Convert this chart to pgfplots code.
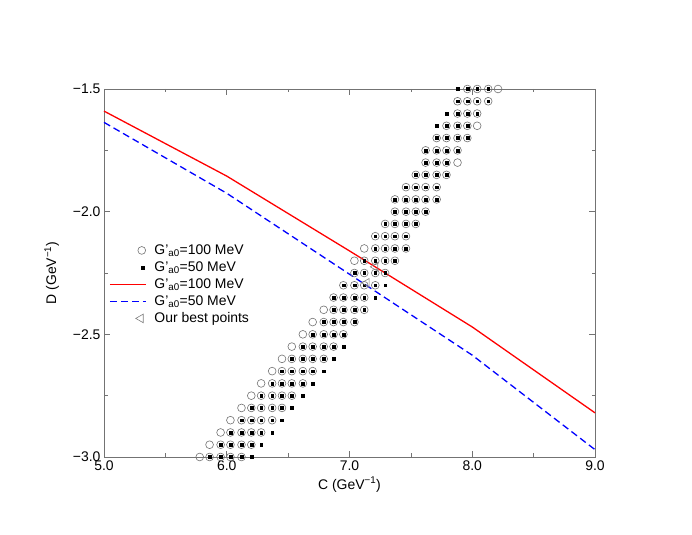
\documentclass[border=0pt]{standalone}
\usepackage{pgfplots}
\pgfplotsset{compat=1.18}
\usepackage{fontspec}
\setmainfont{Liberation Sans}
\pgfplotsset{
  markleg/.style={legend image code/.code={\draw[mark repeat=2,mark phase=2,##1] plot coordinates {(0bp,0bp) (#1,0bp) (36bp,0bp)};}},
  lineleg/.style={legend image code/.code={\draw[##1] (0bp,0bp) -- (36bp,0bp);}},
}
\pgfplotstableread{
C D
7.96 -1.50
8.04 -1.50
8.13 -1.50
8.21 -1.50
7.88 -1.55
7.96 -1.55
8.04 -1.55
8.13 -1.55
7.88 -1.60
7.96 -1.60
8.04 -1.60
7.79 -1.65
7.88 -1.65
7.96 -1.65
8.04 -1.65
7.71 -1.70
7.79 -1.70
7.88 -1.70
7.96 -1.70
7.62 -1.75
7.71 -1.75
7.79 -1.75
7.88 -1.75
7.62 -1.80
7.71 -1.80
7.79 -1.80
7.88 -1.80
7.54 -1.85
7.62 -1.85
7.71 -1.85
7.79 -1.85
7.46 -1.90
7.54 -1.90
7.62 -1.90
7.71 -1.90
7.37 -1.95
7.46 -1.95
7.54 -1.95
7.62 -1.95
7.71 -1.95
7.37 -2.00
7.46 -2.00
7.54 -2.00
7.62 -2.00
7.29 -2.05
7.37 -2.05
7.46 -2.05
7.54 -2.05
7.21 -2.10
7.29 -2.10
7.37 -2.10
7.46 -2.10
7.12 -2.15
7.21 -2.15
7.29 -2.15
7.37 -2.15
7.46 -2.15
7.04 -2.20
7.12 -2.20
7.21 -2.20
7.29 -2.20
7.37 -2.20
7.04 -2.25
7.12 -2.25
7.21 -2.25
7.29 -2.25
6.95 -2.30
7.04 -2.30
7.12 -2.30
7.21 -2.30
6.87 -2.35
6.95 -2.35
7.04 -2.35
7.12 -2.35
6.79 -2.40
6.87 -2.40
6.95 -2.40
7.04 -2.40
7.12 -2.40
6.70 -2.45
6.79 -2.45
6.87 -2.45
6.95 -2.45
7.04 -2.45
6.62 -2.50
6.70 -2.50
6.79 -2.50
6.87 -2.50
6.95 -2.50
6.53 -2.55
6.62 -2.55
6.70 -2.55
6.79 -2.55
6.87 -2.55
6.45 -2.60
6.53 -2.60
6.62 -2.60
6.70 -2.60
6.79 -2.60
6.37 -2.65
6.45 -2.65
6.53 -2.65
6.62 -2.65
6.70 -2.65
6.28 -2.70
6.37 -2.70
6.45 -2.70
6.53 -2.70
6.62 -2.70
6.20 -2.75
6.28 -2.75
6.37 -2.75
6.45 -2.75
6.53 -2.75
6.12 -2.80
6.20 -2.80
6.28 -2.80
6.37 -2.80
6.45 -2.80
6.03 -2.85
6.12 -2.85
6.20 -2.85
6.28 -2.85
6.37 -2.85
5.95 -2.90
6.03 -2.90
6.12 -2.90
6.20 -2.90
6.28 -2.90
5.86 -2.95
5.95 -2.95
6.03 -2.95
6.12 -2.95
6.20 -2.95
5.78 -3.00
5.86 -3.00
5.95 -3.00
6.03 -3.00
6.12 -3.00
}\circles
\pgfplotstableread{
C D
7.88 -1.50
7.96 -1.50
8.04 -1.50
8.13 -1.50
7.88 -1.55
7.96 -1.55
8.04 -1.55
8.13 -1.55
7.79 -1.60
7.88 -1.60
7.96 -1.60
8.04 -1.60
7.71 -1.65
7.79 -1.65
7.88 -1.65
7.96 -1.65
7.71 -1.70
7.79 -1.70
7.88 -1.70
7.96 -1.70
7.62 -1.75
7.71 -1.75
7.79 -1.75
7.88 -1.75
7.62 -1.80
7.71 -1.80
7.79 -1.80
7.54 -1.85
7.62 -1.85
7.71 -1.85
7.79 -1.85
7.46 -1.90
7.54 -1.90
7.62 -1.90
7.71 -1.90
7.37 -1.95
7.46 -1.95
7.54 -1.95
7.62 -1.95
7.71 -1.95
7.37 -2.00
7.46 -2.00
7.54 -2.00
7.62 -2.00
7.29 -2.05
7.37 -2.05
7.46 -2.05
7.54 -2.05
7.21 -2.10
7.29 -2.10
7.37 -2.10
7.46 -2.10
7.21 -2.15
7.29 -2.15
7.37 -2.15
7.46 -2.15
7.12 -2.20
7.21 -2.20
7.29 -2.20
7.37 -2.20
7.04 -2.25
7.12 -2.25
7.21 -2.25
7.29 -2.25
6.95 -2.30
7.04 -2.30
7.12 -2.30
7.21 -2.30
7.29 -2.30
6.87 -2.35
6.95 -2.35
7.04 -2.35
7.12 -2.35
7.21 -2.35
6.87 -2.40
6.95 -2.40
7.04 -2.40
7.12 -2.40
6.79 -2.45
6.87 -2.45
6.95 -2.45
7.04 -2.45
6.70 -2.50
6.79 -2.50
6.87 -2.50
6.95 -2.50
6.62 -2.55
6.70 -2.55
6.79 -2.55
6.87 -2.55
6.95 -2.55
6.53 -2.60
6.62 -2.60
6.70 -2.60
6.79 -2.60
6.87 -2.60
6.45 -2.65
6.53 -2.65
6.62 -2.65
6.70 -2.65
6.79 -2.65
6.37 -2.70
6.45 -2.70
6.53 -2.70
6.62 -2.70
6.70 -2.70
6.28 -2.75
6.37 -2.75
6.45 -2.75
6.53 -2.75
6.62 -2.75
6.20 -2.80
6.28 -2.80
6.37 -2.80
6.45 -2.80
6.53 -2.80
6.12 -2.85
6.20 -2.85
6.28 -2.85
6.37 -2.85
6.45 -2.85
6.03 -2.90
6.12 -2.90
6.20 -2.90
6.28 -2.90
6.37 -2.90
5.95 -2.95
6.03 -2.95
6.12 -2.95
6.20 -2.95
6.28 -2.95
5.86 -3.00
5.95 -3.00
6.03 -3.00
6.12 -3.00
6.20 -3.00
}\squares
\begin{document}
\begin{tikzpicture}
\useasboundingbox (0,0) rectangle (692bp,535bp);
\begin{axis}[
  at={(104bp,78bp)}, anchor=south west,
  scale only axis, width=491bp, height=368bp,
  xmin=5, xmax=9, ymin=-3, ymax=-1.5,
  clip=false,
  font=\fontsize{14}{16}\selectfont,
  xtick={5,6,7,8,9},
  xticklabels={5.0,6.0,7.0,8.0,9.0},
  minor xtick={5.5,6.5,7.5,8.5},
  ytick={-3,-2.5,-2,-1.5},
  yticklabels={−3.0,−2.5,−2.0,−1.5},
  minor ytick={-2.75,-2.25,-1.75},
  tick align=inside,
  major tick length=6bp, minor tick length=3.5bp,
  axis line style={black!55, line width=0.6bp},
  every tick/.style={black!55, line width=0.6bp},
  xlabel={C (GeV\textsuperscript{−1})},
  ylabel={D (GeV\textsuperscript{−1})},
  ylabel shift=7bp,
  legend cell align=left,
  legend style={draw=none, fill=none, at={(rel axis cs:0.01,0.585)}, anchor=north west,
    row sep=0bp, inner sep=0bp, column sep=6bp,
    nodes={inner xsep=2bp, inner ysep=1bp, text height=11.5bp, text depth=3.5bp}},
]
\addplot[only marks, mark=o, mark size=3.9bp, black!55, mark options={line width=0.6bp}, markleg=32bp]
  table[x=C,y=D] {\circles};
\addlegendentry{G'\textsubscript{a0}=100 MeV}
\addplot[only marks, mark=square*, mark size=1.4bp, black, markleg=33bp]
  table[x=C,y=D] {\squares};
\addlegendentry{G'\textsubscript{a0}=50 MeV}
\addplot[red, line width=1.3bp, mark=none, lineleg]
  coordinates {(5.0,-1.59) (6.0,-1.855) (7.0,-2.16) (8.0,-2.47) (9.0,-2.82)};
\addlegendentry{G'\textsubscript{a0}=100 MeV}
\addplot[blue, line width=1.3bp, mark=none, dash pattern=on 7bp off 4bp, lineleg]
  coordinates {(5.0,-1.636) (6.0,-1.925) (7.0,-2.255) (8.0,-2.585) (9.0,-2.97)};
\addlegendentry{G'\textsubscript{a0}=50 MeV}
\addplot[only marks, mark=triangle, mark size=5bp, black!50, mark options={rotate=90, line width=0.6bp}, markleg=31bp]
  coordinates {(7.21,-2.225) (7.14,-2.29)};
\addlegendentry{Our best points}
\end{axis}
\end{tikzpicture}
\end{document}
